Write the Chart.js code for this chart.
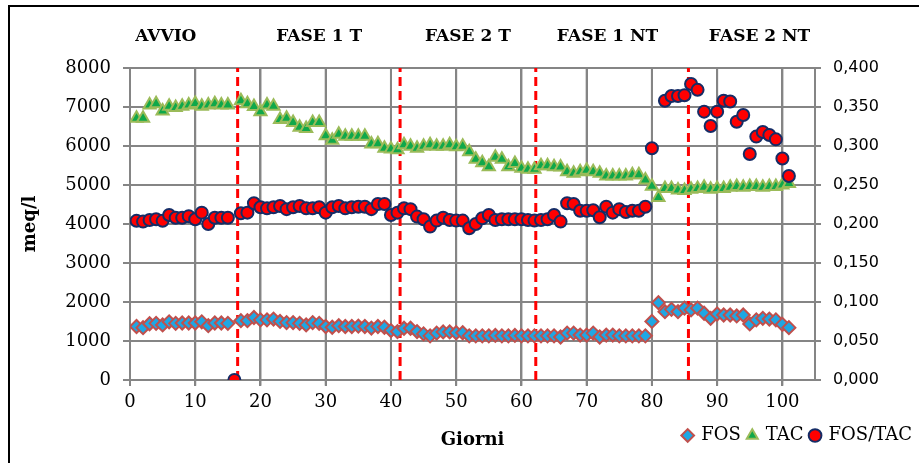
<!DOCTYPE html>
<html><head><meta charset="utf-8">
<script src="https://cdn.jsdelivr.net/npm/chart.js@4.4.1/dist/chart.umd.min.js"></script>
<style>
html,body{margin:0;padding:0;background:#fff;}
#wrap{position:relative;width:919px;height:463px;overflow:hidden;background:#fff;}
#frame{position:absolute;left:8px;top:5px;width:960px;height:520px;border-left:2px solid #000;border-top:2px solid #000;box-sizing:border-box;pointer-events:none;}
canvas{position:absolute;left:0;top:0;}
</style></head><body>
<div id="wrap"><canvas id="c" width="919" height="463"></canvas><div id="frame"></div></div>
<script>
// ---- data ----
const days = [1,2,3,4,5,6,7,8,9,10,11,12,13,14,15,16,17,18,19,20,21,22,23,24,25,26,27,28,29,30,31,32,33,34,35,36,37,38,39,40,41,42,43,44,45,46,47,48,49,50,51,52,53,54,55,56,57,58,59,60,61,62,63,64,65,66,67,68,69,70,71,72,73,74,75,76,77,78,79,80,81,82,83,84,85,86,87,88,89,90,91,92,93,94,95,96,97,98,99,100,101];
const fos = [1370,1340,1440,1450,1410,1490,1450,1460,1460,1460,1490,1390,1460,1460,1450,null,1520,1520,1600,1540,1540,1560,1500,1470,1470,1450,1410,1470,1450,1370,1350,1390,1370,1370,1380,1370,1330,1370,1350,1265,1240,1325,1325,1240,1180,1130,1200,1230,1230,1210,1210,1130,1130,1130,1130,1140,1130,1130,1140,1130,1130,1130,1130,1130,1130,1100,1200,1200,1150,1150,1200,1100,1150,1150,1130,1130,1130,1130,1130,1500,1980,1750,1810,1750,1840,1795,1840,1710,1580,1690,1665,1665,1640,1665,1435,1540,1580,1560,1540,1425,1340];
const tac = [6710,6710,7050,7080,6900,7020,6990,7020,7050,7090,7020,7050,7080,7050,7050,null,7160,7080,7010,6880,7050,7020,6680,6710,6600,6480,6450,6600,6600,6260,6150,6300,6250,6250,6250,6250,6050,6060,5940,5920,5900,6030,5990,5940,5990,6030,5990,5990,6030,5980,5990,5850,5660,5570,5470,5710,5660,5470,5550,5430,5400,5400,5490,5490,5470,5460,5340,5300,5340,5380,5340,5300,5230,5230,5230,5230,5260,5260,5130,4970,4680,4910,4910,4870,4860,4890,4910,4940,4890,4910,4910,4940,4960,4940,4960,4960,4940,4960,4960,5000,5040];
const fosTac = [0.204,0.203,0.205,0.206,0.204,0.2115,0.208,0.208,0.210,0.206,0.2145,0.200,0.208,0.208,0.208,0,0.2137,0.2145,0.2265,0.2214,0.220,0.2214,0.2231,0.219,0.2214,0.2231,0.220,0.220,0.2214,0.2145,0.2214,0.2231,0.220,0.2214,0.222,0.222,0.219,0.2256,0.2256,0.2115,0.2145,0.220,0.219,0.2094,0.206,0.1966,0.2043,0.208,0.2051,0.2043,0.2043,0.1944,0.200,0.2073,0.2115,0.2051,0.206,0.206,0.206,0.206,0.2051,0.2043,0.2051,0.206,0.2115,0.203,0.2265,0.2256,0.217,0.217,0.2175,0.2085,0.222,0.2145,0.219,0.2154,0.217,0.217,0.222,0.297,null,0.358,0.364,0.364,0.365,0.3795,0.372,0.344,0.3256,0.344,0.358,0.357,0.331,0.3397,0.2897,0.312,0.318,0.314,0.3085,0.284,0.2615];
const phaseBounds = [16.5, 41.4, 62.2, 85.6];
const phaseNames = ['AVVIO','FASE 1 T','FASE 2 T','FASE 1 NT','FASE 2 NT'];
const phaseCenters = [5.5, 29.0, 51.8, 73.2, 96.5];
const xTicks = [0,10,20,30,40,50,60,70,80,90,100];
const seriesNames = ['FOS','TAC','FOS/TAC'];
const xTitle = 'Giorni';
const yTitle = 'meq/l';

// ---- build ----
const pts = arr => days.map((d,i)=>({x:d,y:arr[i]})).filter(p=>p.y!==null);
const serif = '"DejaVu Serif", serif';
const sans = '"DejaVu Sans", sans-serif';
const gridCol = '#858585';

const datasets = [
  {label:seriesNames[0], data:pts(fos), yAxisID:'y', pointStyle:'rectRot', pointRadius:6.5, pointBackgroundColor:'#1ea7e4', pointBorderColor:'#c0504d', pointBorderWidth:2, backgroundColor:'#1ea7e4', borderColor:'#c0504d', borderWidth:2, order:3},
  {label:seriesNames[1], data:pts(tac), yAxisID:'y', pointStyle:'triangle', pointRadius:7, pointBackgroundColor:'#0fa84a', pointBorderColor:'#9bbb59', pointBorderWidth:2, backgroundColor:'#0fa84a', borderColor:'#9bbb59', borderWidth:2, order:2},
  {label:seriesNames[2], data:pts(fosTac), yAxisID:'y2', pointStyle:'circle', pointRadius:6, pointBackgroundColor:'#ff0000', pointBorderColor:'#152c66', pointBorderWidth:2, backgroundColor:'#ff0000', borderColor:'#152c66', borderWidth:2, order:1}
];
// phase boundaries (red dashed)
phaseBounds.forEach(b=>{
  datasets.push({label:'', isGuide:true, data:[{x:b,y:0},{x:b,y:8000}], yAxisID:'y', showLine:true, borderColor:'#ff0000', borderWidth:3, borderDash:[9,5], pointRadius:0, order:4});
});
// vertical grid lines at the x ticks (with small tick marks below the axis)
xTicks.forEach(t=>{
  datasets.push({label:'', isGuide:true, data:[{x:t,y:-150},{x:t,y:8000}], yAxisID:'y', showLine:true, clip:false, borderColor:gridCol, borderWidth:2, pointRadius:0, order:6});
});

const overlay = {
  id:'overlayText',
  afterDraw(chart){
    const {ctx, chartArea, scales:{x}} = chart;
    ctx.save();
    ctx.fillStyle='#000'; ctx.textAlign='center'; ctx.textBaseline='middle';
    ctx.font = 'bold 17px ' + serif;
    phaseNames.forEach((n,i)=>ctx.fillText(n, x.getPixelForValue(phaseCenters[i]), 37));
    ctx.font = 'bold 18px ' + serif;
    ctx.fillText(xTitle, (chartArea.left+chartArea.right)/2, 440);
    ctx.restore();
  }
};

new Chart(document.getElementById('c'), {
  type:'scatter',
  data:{datasets},
  plugins:[overlay],
  options:{
    responsive:false, animation:false, devicePixelRatio:1,
    layout:{padding:{top:68,left:0,right:0,bottom:8.5}},
    plugins:{
      legend:{position:'bottom', align:'end',
        labels:{usePointStyle:true, boxWidth:9, boxHeight:9, padding:7, color:'#000',
          font:{family:serif, size:18},
          filter:(item,data)=>!data.datasets[item.datasetIndex].isGuide,
          sort:(a,b)=>a.datasetIndex-b.datasetIndex}},
      tooltip:{enabled:false}
    },
    scales:{
      x:{type:'linear', position:'bottom', min:0, max:105,
        afterBuildTicks:s=>{ s.ticks = xTicks.map(v=>({value:v})); },
        ticks:{color:'#000', font:{family:serif,size:18}, padding:6, maxRotation:0, autoSkip:false},
        grid:{display:true, color:gridCol, lineWidth:2, tickLength:6},
        border:{display:true, color:gridCol, width:2}},
      y:{position:'left', min:0, max:8000,
        ticks:{stepSize:1000, color:'#000', font:{family:serif,size:18}, padding:12, callback:v=>String(v)},
        grid:{color:gridCol, lineWidth:2, tickLength:7},
        border:{color:gridCol, width:2},
        title:{display:true, text:yTitle, color:'#000', font:{family:serif,size:18,weight:'bold'}, padding:{top:20,bottom:0}},
        afterFit:s=>{ s.width = 130; }},
      y2:{position:'right', min:0, max:0.4,
        ticks:{stepSize:0.05, color:'#000', font:{family:sans,size:16}, padding:12,
          callback:v=>v.toFixed(3).replace('.',',')},
        grid:{drawOnChartArea:false, color:gridCol, lineWidth:2, tickLength:6},
        border:{color:gridCol, width:2},
        afterFit:s=>{ s.width = 104; }}
    }
  }
});
</script>
</body></html>
